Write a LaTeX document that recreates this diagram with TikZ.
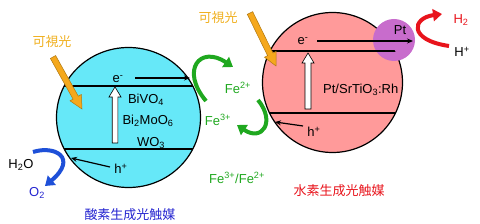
\documentclass[tikz,border=0pt]{standalone}
\usepackage{fontspec}
\setmainfont{Liberation Sans}
\newfontfamily\jp{Noto Sans CJK JP}
\usetikzlibrary{calc,arrows.meta,shapes.geometric}
\definecolor{cyanfill}{HTML}{66E8F8}
\definecolor{pinkfill}{HTML}{FF9A9A}
\definecolor{ptfill}{HTML}{C86CCC}
\definecolor{fegreen}{HTML}{1FA81F}
\definecolor{hred}{HTML}{E8141C}
\definecolor{oblue}{HTML}{1E50D8}
\definecolor{tblue}{HTML}{2424D0}
\definecolor{lightorange}{HTML}{F5A81C}
\definecolor{orangeline}{HTML}{B07810}
\definecolor{jporange}{HTML}{F0B020}
\newcommand{\blockarrow}[6]{% style, tail, tip, half shaft, half head, head length
  \coordinate (ba-b) at ($(#3)!#6!(#2)$);
  \filldraw[#1] ($(#2)!#4!90:(#3)$) -- ($(ba-b)!#4!-90:(#2)$) -- ($(ba-b)!#5!-90:(#2)$)
    -- (#3) -- ($(ba-b)!#5!90:(#2)$) -- ($(ba-b)!#4!90:(#2)$) -- ($(#2)!#4!-90:(#3)$) -- cycle;}
\newcommand{\sps}[1]{\textsuperscript{#1}}
\newcommand{\sbs}[1]{\textsubscript{#1}}
\begin{document}
\begin{tikzpicture}[x=1pt,y=-1pt,
  lbl/.style={inner sep=0pt,font=\fontsize{13}{15}\selectfont},
  jplbl/.style={inner sep=0pt,font=\jp\fontsize{13}{15}\selectfont},
  band/.style={line width=1.3pt},
  thinarrow/.style={line width=1.2pt,-{Stealth[length=6pt,width=5pt]}},
  curvearrow/.style={line width=4pt,-{Triangle[length=9pt,width=12pt]}},
  orangearrow/.style={fill=lightorange,draw=orangeline,line width=0.5pt},
  whitearrow/.style={fill=white,draw=black,line width=0.6pt}]
\useasboundingbox (0,0) rectangle (480,224);
% left catalyst
\node[draw=black,line width=1.2pt,fill=cyanfill,ellipse,minimum width=144pt,minimum height=140pt,inner sep=0pt] (lc) at (128.5,117.5) {};
\begin{scope}
  \clip (128.5,117.5) ellipse [x radius=72pt,y radius=70pt];
  \draw[band] (50,86) -- (210,86);
  \draw[band] (50,149) -- (210,149);
\end{scope}
% right catalyst
\node[draw=black,line width=1.2pt,fill=pinkfill,circle,minimum size=140pt,inner sep=0pt] (rc) at (332.5,82.5) {};
\node[fill=ptfill,circle,minimum size=42pt,inner sep=0pt] (pt) at (394,40) {};
\begin{scope}
  \clip (332.5,82.5) circle [radius=70pt];
  \draw[band] (250,51) -- (398,51);
  \draw[band] (250,113) -- (420,113);
\end{scope}
% labels left
\node[lbl] (le) at (118,79) {e\sps{-}};
\node[lbl] (bivo) at (146,100) {BiVO\sbs{4}};
\node[lbl] (bimo) at (148,121) {Bi\sbs{2}MoO\sbs{6}};
\node[lbl] (wo) at (151,143) {WO\sbs{3}};
\node[lbl] (lh) at (121,169) {h\sps{+}};
\coordinate (leend) at (190,78);
\coordinate (lhend) at (71,158);
\draw[thinarrow] (135,78) -- (leend);
\draw[thinarrow] (110,167) -- (lhend);
\coordinate (lwt) at (115,143);
\coordinate (lwp) at (115,87);
\blockarrow{whitearrow}{lwt}{lwp}{2.8pt}{6pt}{10pt}
% labels right
\node[lbl] (re) at (303,41) {e\sps{-}};
\node[lbl] (ptl) at (400,30) {Pt};
\begin{scope}
  \clip (332.5,82.5) circle [radius=70pt];
  \node[lbl,anchor=west] (sto) at (323,90) {Pt/SrTiO\sbs{3}:Rh};
\end{scope}
\node[lbl] (rh) at (314,132) {h\sps{+}};
\coordinate (reend) at (413,41);
\coordinate (rhend) at (275,122);
\draw[thinarrow] (317,41) -- (reend);
\draw[thinarrow] (303,126) -- (rhend);
\coordinate (rwt) at (308,109);
\coordinate (rwp) at (308,53);
\blockarrow{whitearrow}{rwt}{rwp}{3pt}{6pt}{10pt}
% visible light
\node[jplbl,text=jporange] (vl1) at (52,42) {可視光};
\node[jplbl,text=jporange] (vl2) at (218,18) {可視光};
\coordinate (o1t) at (53,57);
\coordinate (o1p) at (82,109);
\blockarrow{orangearrow}{o1t}{o1p}{3pt}{6.5pt}{13pt}
\coordinate (o2t) at (250,13);
\coordinate (o2p) at (276,66);
\blockarrow{orangearrow}{o2t}{o2p}{3pt}{6.5pt}{13pt}
% Fe mediator
\node[lbl,text=fegreen] (fe2) at (238,88) {Fe\sps{2+}};
\node[lbl,text=fegreen] (fe3) at (218,120) {Fe\sps{3+}};
\node[lbl,text=fegreen] (fepair) at (237,178) {Fe\sps{3+}/Fe\sps{2+}};
\coordinate (g1s) at (206,101);
\coordinate (g1e) at (233,67);
\draw[curvearrow,fegreen] (g1s) .. controls (180,70) and (200,45) .. (g1e);
\coordinate (g2s) at (258,100);
\coordinate (g2e) at (237,125);
\draw[curvearrow,fegreen] (g2s) .. controls (276,122) and (262,142) .. (g2e);
% water oxidation
\node[lbl] (h2o) at (21,165) {H\sbs{2}O};
\node[lbl,text=tblue] (o2) at (37,193) {O\sbs{2}};
\coordinate (bs) at (33,152);
\coordinate (be) at (45,186);
\draw[curvearrow,oblue] (bs) .. controls (55,145) and (78,158) .. (be);
% proton reduction
\node[lbl,text=hred] (h2) at (461,20) {H\sbs{2}};
\node[lbl] (hp) at (462,52) {H\sps{+}};
\coordinate (rs) at (449,46);
\coordinate (re2) at (442,14);
\draw[curvearrow,hred] (rs) .. controls (408,40) and (412,18) .. (re2);
% titles
\node[jplbl,text=tblue] (t1) at (130,215) {酸素生成光触媒};
\node[jplbl,text=hred] (t2) at (339,191) {水素生成光触媒};
\end{tikzpicture}
\end{document}
